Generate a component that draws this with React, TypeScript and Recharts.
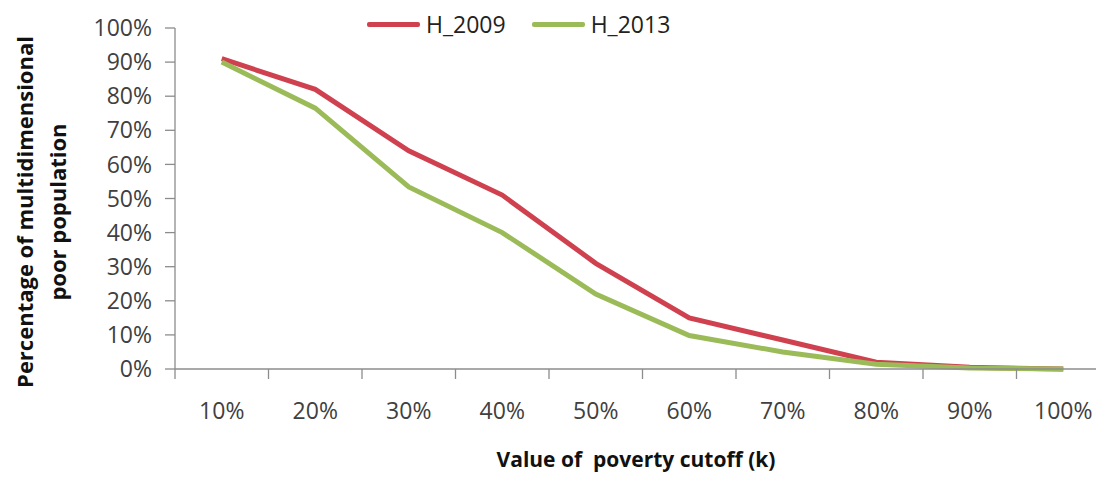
import React from 'react';
import { LineChart, Line, XAxis, YAxis, Legend, Label } from 'recharts';

const categories = ['10%', '20%', '30%', '40%', '50%', '60%', '70%', '80%', '90%', '100%'];
const h2009 = [91, 82, 64, 51, 31, 15, 8.5, 2, 0.5, 0];
const h2013 = [90, 76.5, 53.4, 40, 22, 9.8, 5, 1.4, 0.3, 0];
const yTicks = [0, 10, 20, 30, 40, 50, 60, 70, 80, 90, 100];
const seriesNames = ['H_2009', 'H_2013'];
const seriesColors = ['#D0414F', '#9BBB59'];
const xAxisTitle = 'Value of  poverty cutoff (k)';
const yAxisTitle = ['Percentage of multidimensional', 'poor population'];

const data = categories.map((k, i) => ({ k, h2009: h2009[i], h2013: h2013[i] }));

const FONT = '"Open Sans", sans-serif';
const AXIS_COLOR = '#8c8c8c';
const TEXT_COLOR = '#404040';

const XTick = (props: any) => {
  const { x, y, payload } = props;
  const half = payload && typeof payload.offset === 'number' ? payload.offset : 46.75;
  return (
    <g>
      <line x1={x - half} y1={y - 12} x2={x - half} y2={y - 2} stroke={AXIS_COLOR} strokeWidth={1.3} />
      <text x={x} y={y + 38} textAnchor="middle" fill={TEXT_COLOR} fontSize={23} fontFamily={FONT}>
        {payload.value}
      </text>
    </g>
  );
};

const YTitle = () => {
  const cy = 212;
  return (
    <g fontFamily={FONT} fontWeight="bold" fontSize={22} fill="#111">
      <text transform={`translate(33, ${cy}) rotate(-90)`} textAnchor="middle">{yAxisTitle[0]}</text>
      <text transform={`translate(66, ${cy}) rotate(-90)`} textAnchor="middle">{yAxisTitle[1]}</text>
    </g>
  );
};

const XTitle = () => (
  <text x={636} y={467} textAnchor="middle" fontFamily={FONT} fontWeight="bold" fontSize={21} fill="#111" style={{ whiteSpace: 'pre' }}>
    {xAxisTitle}
  </text>
);

const LegendContent = (props: any) => {
  const { payload } = props;
  return (
    <div style={{ display: 'flex', alignItems: 'center', fontFamily: FONT, fontSize: 23, color: '#222', lineHeight: '28px' }}>
      {(payload || []).map((p: any, i: number) => (
        <div key={i} style={{ display: 'flex', alignItems: 'center', marginRight: i === 0 ? 26 : 0 }}>
          <div style={{ width: 53, height: 5, background: p.color, borderRadius: 2, marginRight: 6 }} />
          <span>{p.value}</span>
        </div>
      ))}
    </div>
  );
};

export default function App() {
  return (
    <div style={{ position: 'fixed', left: 0, top: 0, width: 1096, height: 477, overflow: 'hidden', background: '#fff' }}>
      <LineChart width={1120} height={477} data={data} margin={{ top: 28, right: 10, bottom: 48, left: 75 }}>
        <XAxis
          dataKey="k"
          scale="band"
          height={60}
          axisLine={{ stroke: AXIS_COLOR, strokeWidth: 1.3 }}
          tickLine={false}
          tickSize={10}
          tickMargin={2}
          tick={<XTick />}
          interval={0}
        >
          <Label content={<XTitle />} />
        </XAxis>
        <YAxis
          width={100}
          domain={[0, 100]}
          ticks={yTicks}
          interval={0}
          tickFormatter={(v: number) => `${v}%`}
          axisLine={{ stroke: AXIS_COLOR, strokeWidth: 1.3 }}
          tickLine={{ stroke: AXIS_COLOR, strokeWidth: 1.3 }}
          tickSize={10}
          tickMargin={13}
          tick={{ fill: TEXT_COLOR, fontSize: 23, fontFamily: FONT }}
        >
          <Label content={<YTitle />} />
        </YAxis>
        <Legend
          layout="horizontal"
          verticalAlign="middle"
          align="center"
          content={<LegendContent />}
          wrapperStyle={{ top: 10, left: 367, width: 'auto', height: 'auto' }}
        />
        <Line
          type="linear"
          dataKey="h2009"
          name={seriesNames[0]}
          stroke={seriesColors[0]}
          strokeWidth={5}
          dot={false}
          activeDot={false}
          isAnimationActive={false}
        />
        <Line
          type="linear"
          dataKey="h2013"
          name={seriesNames[1]}
          stroke={seriesColors[1]}
          strokeWidth={5}
          dot={false}
          activeDot={false}
          isAnimationActive={false}
        />
      </LineChart>
    </div>
  );
}
